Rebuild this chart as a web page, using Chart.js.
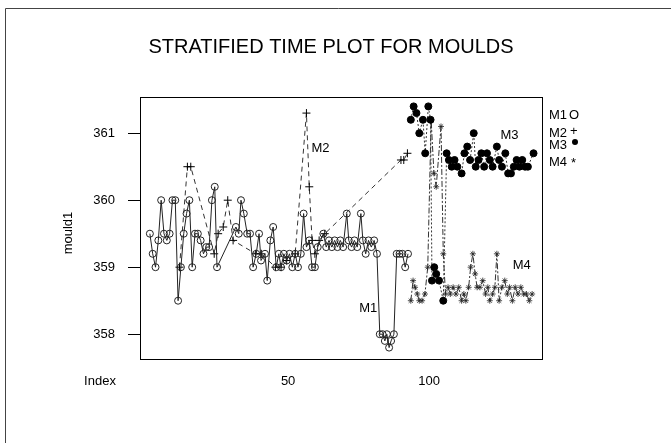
<!DOCTYPE html>
<html lang="en">
<head>
    <meta charset="UTF-8">
    <title>Stratified Time Plot for Moulds</title>
    <script src="https://cdn.jsdelivr.net/npm/chart.js"></script>
    <style>
        body { margin: 0; background: #fff; }
        canvas { display: block; }
    </style>
</head>
<body>
    <canvas id="mouldChart" width="671" height="443"></canvas>

    <script>
    // Index / value pairs for each mould
    const m1Index = [1, 2, 3, 4, 5, 6, 7, 8, 9, 10, 11, 12, 13, 14, 15, 16, 17, 18, 19, 20, 21, 22, 23, 24, 24.8,
        31.5, 32.5, 33.3, 34.3, 35.5, 36.5, 37.6, 38.7, 39.7, 40.4, 41.8, 42.6, 43.7, 44.7, 45.8, 46.7,
        47.5, 48.5, 49.5, 50.5, 51.5, 52.5, 53.5, 54.5, 55.5, 56.5, 57.5, 58.5, 59.5, 60.5, 62.5, 63.5,
        64.5, 65.5, 66.5, 67.5, 68.5, 69.5, 70.8, 71.5, 72.5, 73.5, 74.5, 75.8, 76.5, 77.5, 78.5, 79.5,
        80.5, 81.5, 82.5, 83.5, 84.3, 85, 85.8, 86.5, 87.5, 88.5, 89.5, 90.5, 91.5, 92.5];
    const m1Value = [359.5, 359.2, 359.0, 359.4, 360.0, 359.5, 359.4, 359.5, 360.0, 360.0, 358.5, 359.0, 359.5, 359.8, 360.0,
        359.0, 359.5, 359.5, 359.4, 359.2, 359.3, 359.3, 360.0, 360.2, 359.0,
        359.6, 359.5, 360.0, 359.8, 359.5, 359.5, 359.0, 359.2, 359.5, 359.1, 359.2, 358.8, 359.4, 359.6, 359.0, 359.2,
        359.0, 359.2, 359.1, 359.2, 359.0, 359.2, 359.0, 359.2, 359.8, 359.3, 359.4, 359.0, 359.0, 359.3, 359.5, 359.3,
        359.4, 359.3, 359.4, 359.3, 359.4, 359.3, 359.8, 359.4, 359.3, 359.4, 359.3, 359.8, 359.4, 359.2, 359.4, 359.3,
        359.4, 359.2, 358.0, 358.0, 357.9, 358.0, 357.8, 357.9, 358.0, 359.2, 359.2, 359.2, 359.0, 359.2];

    const m2Index = [11.5, 14.3, 15.5, 23.8, 25.2, 27.0, 28.6, 30.5, 38.5, 40.5, 45.5, 47.5, 49.5, 52.5,
        56.5, 57.5, 58.5, 59.5, 61, 63, 90, 91, 92.3];
    const m2Value = [359.0, 360.5, 360.5, 359.2, 359.5, 359.6, 360.0, 359.4, 359.2, 359.2, 359.0, 359.0, 359.1, 359.2,
        361.3, 360.2, 359.4, 359.2, 359.4, 359.5, 360.6, 360.6, 360.7];

    const m3Index = [93.5, 94.5, 95.5, 96.5, 97.8, 98.6, 99.7, 100.5, 101, 101.8, 102.5, 103.5, 105,
        106.2, 107, 108, 109, 110, 111.5, 112.5, 113.5, 114.5, 115.8, 116.5, 117.5, 118.5, 119.5, 120.5,
        121.5, 122.5, 124, 124.8, 125.8, 127, 128, 129, 130, 131, 132, 133, 134, 135, 137];
    const m3Value = [361.2, 361.4, 361.3, 361.0, 361.2, 360.7, 361.4, 361.2, 358.8, 359.0, 358.9, 358.8, 358.5,
        360.7, 360.6, 360.5, 360.6, 360.5, 360.4, 360.7, 360.8, 360.6, 361.0, 360.5, 360.6, 360.7, 360.5, 360.7,
        360.6, 360.5, 360.8, 360.6, 360.5, 360.7, 360.4, 360.4, 360.5, 360.6, 360.5, 360.6, 360.5, 360.5, 360.7];

    const m4Index = [93.5, 94.3, 95, 95.8, 96.5, 97.5, 98.5, 99.5, 100.7, 101.7, 102.5, 104.2, 105,
        105.8, 106.7, 107.5, 108.5, 109.5, 110.5, 111.5, 112.3, 113, 114, 114.7, 115.5, 116.3, 117, 118,
        119, 120, 120.8, 121.5, 122.5, 123.3, 124, 124.8, 125.8, 126.8, 127.7, 128.5, 129.5, 130.5,
        131.5, 132.5, 133.5, 134.5, 135.5, 136.5];
    const m4Value = [358.5, 358.8, 358.7, 358.6, 358.5, 358.5, 358.6, 359.0, 361.2, 360.4, 360.2, 361.1, 359.2,
        358.6, 358.7, 358.6, 358.7, 358.6, 358.7, 358.5, 358.6, 358.5, 358.7, 359.0, 359.2, 358.9, 358.7, 358.7,
        358.8, 358.6, 358.7, 358.5, 358.6, 358.7, 359.2, 358.5, 358.7, 358.8, 358.6, 358.7, 358.5, 358.7,
        358.6, 358.7, 358.6, 358.6, 358.5, 358.6];

    const yTicks = [358, 359, 360, 361];
    const xTicks = [50, 100];

    const toPoints = (xs, ys) => xs.map((x, i) => ({ x: x, y: ys[i] }));

    Chart.defaults.font.family = "'Liberation Sans', Arial, sans-serif";
    Chart.defaults.color = '#000';

    // Frame, title and all the loose text
    const decorations = {
        id: 'decorations',
        afterDraw(chart) {
            const ctx = chart.ctx;
            const area = chart.chartArea;
            const xs = chart.scales.x;
            const ys = chart.scales.y;
            ctx.save();

            // outer figure border (left and top edges only visible)
            ctx.strokeStyle = '#444';
            ctx.lineWidth = 1;
            ctx.beginPath();
            ctx.moveTo(5.5, 443);
            ctx.lineTo(5.5, 8.5);
            ctx.lineTo(671, 8.5);
            ctx.stroke();

            // plot frame
            ctx.strokeStyle = '#000';
            ctx.strokeRect(area.left + 0.5, area.top + 0.5, area.right - area.left, area.bottom - area.top);

            ctx.fillStyle = '#000';
            ctx.font = "20px 'Liberation Sans', Arial, sans-serif";
            ctx.textAlign = 'center';
            ctx.textBaseline = 'middle';
            ctx.fillText('STRATIFIED TIME PLOT FOR MOULDS', 331, 47);

            ctx.font = "13px 'Liberation Sans', Arial, sans-serif";
            ctx.fillText('Index', 100, 381);

            ctx.save();
            ctx.translate(68, 233);
            ctx.rotate(-Math.PI / 2);
            ctx.fillText('mould1', 0, 0);
            ctx.restore();

            // in-plot series labels
            ctx.textAlign = 'center';
            ctx.fillText('M2', xs.getPixelForValue(61.5), ys.getPixelForValue(360.78));
            ctx.fillText('M1', xs.getPixelForValue(78.4), ys.getPixelForValue(358.39));
            ctx.fillText('M3', xs.getPixelForValue(128.5), ys.getPixelForValue(360.96));
            ctx.fillText('M4', xs.getPixelForValue(132.8), ys.getPixelForValue(359.03));

            // key on the right
            ctx.textAlign = 'left';
            ctx.fillText('M1', 549, 115);
            ctx.fillText('M2', 549, 133);
            ctx.fillText('M3', 549, 145);
            ctx.fillText('M4', 549, 162);
            ctx.fillText('O', 569, 115);
            ctx.fillText('+', 570, 131);
            ctx.fillText('*', 571, 163);
            ctx.beginPath();
            ctx.arc(575, 142, 3, 0, Math.PI * 2);
            ctx.fill();

            ctx.restore();
        }
    };

    new Chart(document.getElementById('mouldChart'), {
        type: 'scatter',
        data: {
            datasets: [
                {
                    label: 'M1',
                    data: toPoints(m1Index, m1Value),
                    showLine: true,
                    borderColor: '#222',
                    borderWidth: 1,
                    pointStyle: 'circle',
                    pointRadius: 3.5,
                    pointBorderColor: '#222',
                    pointBackgroundColor: 'rgba(0,0,0,0)',
                    pointBorderWidth: 1
                },
                {
                    label: 'M2',
                    data: toPoints(m2Index, m2Value),
                    showLine: true,
                    borderColor: '#333',
                    borderWidth: 1,
                    borderDash: [5, 4],
                    pointStyle: 'cross',
                    pointRadius: 4,
                    pointBorderColor: '#000',
                    pointBorderWidth: 1
                },
                {
                    label: 'M3',
                    data: toPoints(m3Index, m3Value),
                    showLine: true,
                    borderColor: '#333',
                    borderWidth: 1,
                    borderDash: [2, 2],
                    pointStyle: 'circle',
                    pointRadius: 3.5,
                    pointBorderColor: '#000',
                    pointBackgroundColor: '#000',
                    pointBorderWidth: 1
                },
                {
                    label: 'M4',
                    data: toPoints(m4Index, m4Value),
                    showLine: true,
                    borderColor: '#333',
                    borderWidth: 1,
                    borderDash: [6, 2, 2, 2],
                    pointStyle: 'star',
                    pointRadius: 3,
                    pointBorderColor: '#222',
                    pointBorderWidth: 0.8
                }
            ]
        },
        options: {
            responsive: false,
            animation: false,
            devicePixelRatio: 1,
            layout: { padding: { top: 97, right: 129, bottom: 0, left: 0 } },
            plugins: {
                legend: { display: false },
                tooltip: { enabled: false }
            },
            scales: {
                x: {
                    type: 'linear',
                    min: -2.5,
                    max: 140,
                    afterBuildTicks: s => { s.ticks = xTicks.map(v => ({ value: v })); },
                    afterFit: s => { s.height = 84; },
                    ticks: { font: { size: 13 }, padding: 15, maxRotation: 0, autoSkip: false },
                    grid: { display: true, drawOnChartArea: false, drawTicks: false },
                    border: { display: false }
                },
                y: {
                    min: 357.63,
                    max: 361.54,
                    afterBuildTicks: s => { s.ticks = yTicks.map(v => ({ value: v })); },
                    afterFit: s => { s.width = 140; },
                    ticks: { font: { size: 13 }, padding: 13 },
                    grid: { drawOnChartArea: false, tickLength: 12, color: '#000' },
                    border: { display: false }
                }
            }
        },
        plugins: [decorations]
    });
    </script>
</body>
</html>
